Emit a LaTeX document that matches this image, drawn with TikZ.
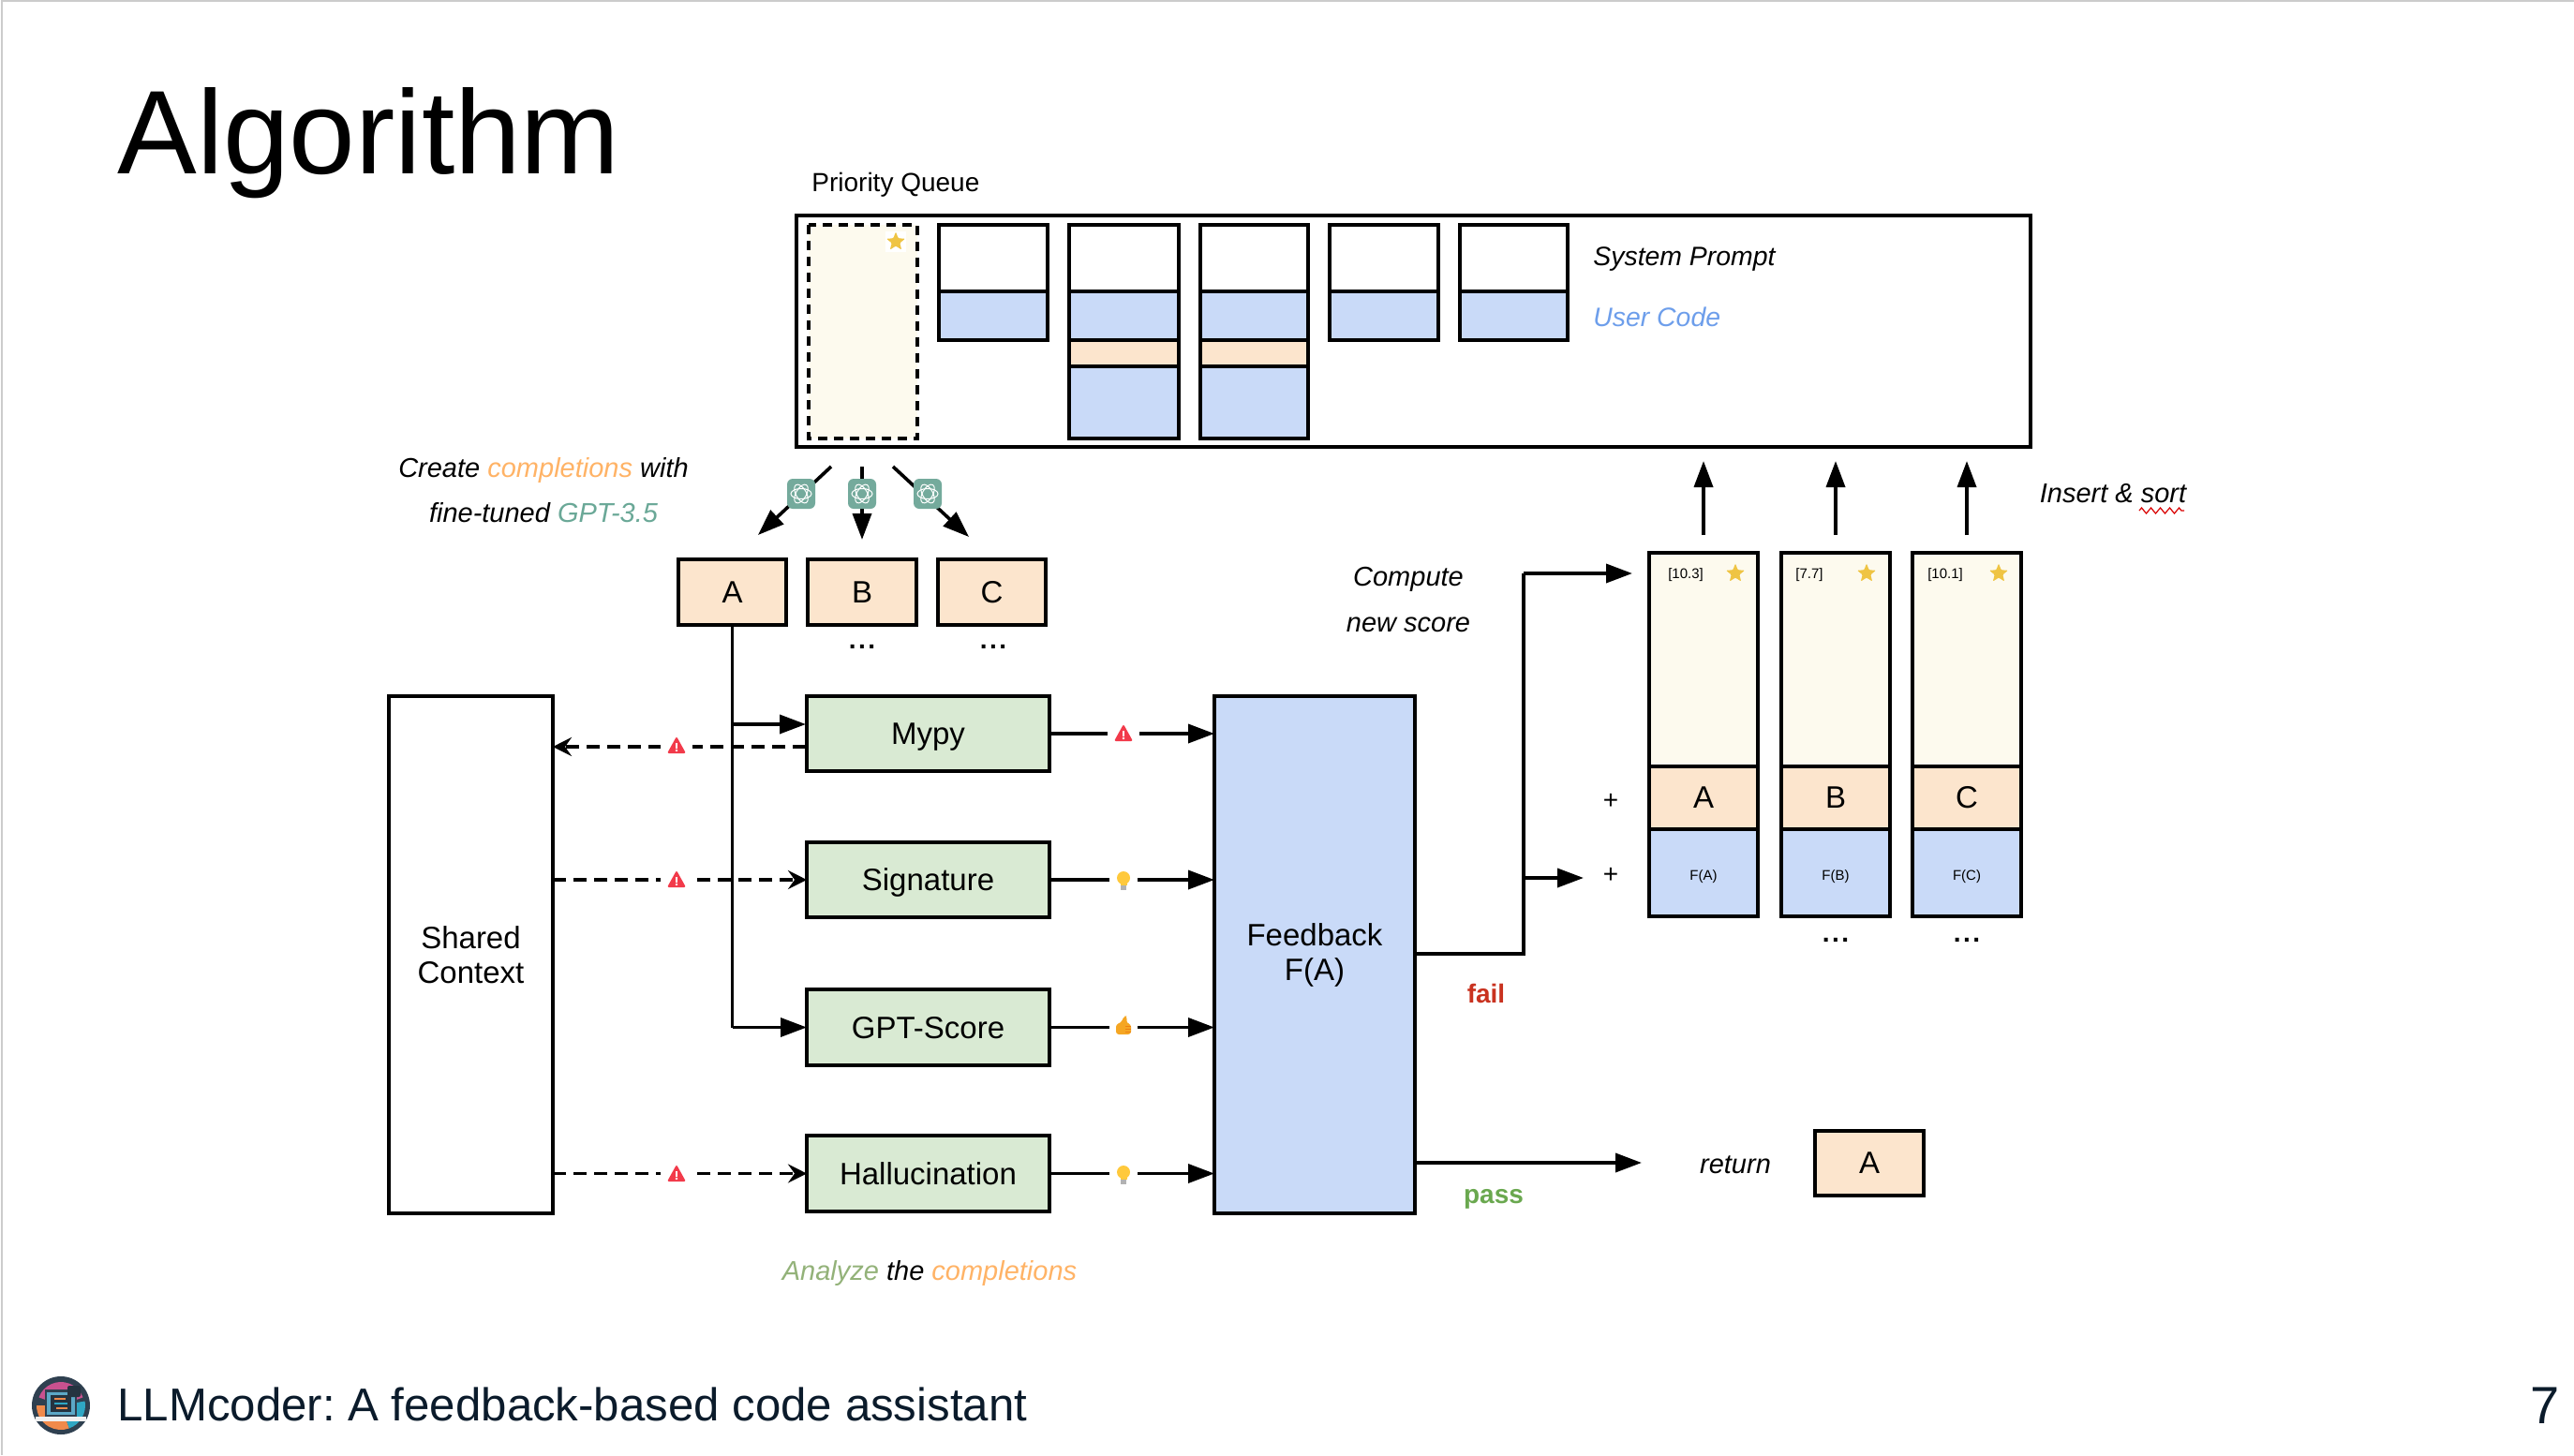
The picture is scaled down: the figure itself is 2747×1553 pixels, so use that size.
\documentclass[tikz,border=0pt]{standalone}
\usepackage{fontspec}
\setmainfont{Liberation Sans}
\usetikzlibrary{arrows.meta,shapes.geometric,decorations.pathmorphing}
\definecolor{peach}{HTML}{FCE5CD}
\definecolor{mint}{HTML}{D9EAD3}
\definecolor{sky}{HTML}{C9DAF8}
\definecolor{cream}{HTML}{FDFAEE}
\definecolor{txtorange}{HTML}{FFB366}
\definecolor{txtteal}{HTML}{6AA897}
\definecolor{txtgreen}{HTML}{93B279}
\definecolor{txtblue}{HTML}{6D9EEB}
\definecolor{failred}{HTML}{C9321F}
\definecolor{passgreen}{HTML}{6AA84F}
\definecolor{starc}{HTML}{EFC443}
\definecolor{warnred}{HTML}{F23A4A}
\definecolor{bulbc}{HTML}{FFC93C}
\definecolor{thumbc}{HTML}{F5A623}
\definecolor{navy}{HTML}{0B1B2B}
\definecolor{gptc}{HTML}{74AA9C}
\definecolor{logodark}{HTML}{2F4050}
\definecolor{logoorange}{HTML}{F08A4B}
\definecolor{logoteal}{HTML}{2FA7C4}
\definecolor{logopink}{HTML}{C9518F}
\newcommand{\fsz}[1]{\fontsize{#1}{#1}\selectfont}
\newcommand{\bx}[7]{%
  \pgfmathsetlengthmacro{\bw}{(#4-#2)*0.5}%
  \pgfmathsetlengthmacro{\bh}{(#5-#3)*0.5}%
  \pgfmathsetmacro{\bcx}{(#2+#4)/2}%
  \pgfmathsetmacro{\bcy}{(#3+#5)/2}%
  \node[boxn,#6,minimum width=\bw,minimum height=\bh] (#1) at (\bcx,\bcy) {#7};}
\newcommand{\dotsrow}{.\hspace{1.2pt}.\hspace{1.2pt}.}
\tikzset{
  x=0.5pt,y=-0.5pt,
  boxn/.style={draw=black,line width=1.8pt,inner sep=0pt,outer sep=0pt,align=center,font=\fontsize{16.5}{18.5}\selectfont},
  capline/.style={text height=11.8pt,text depth=0pt},
  smallf/.style={font=\fsz{7.5},text height=8pt,text depth=0pt},
  ital/.style={font=\fsz{14.5}\itshape,inner sep=0pt,align=center},
  italq/.style={font=\fsz{14.2}\itshape,inner sep=0pt,anchor=west},
  dotn/.style={inner sep=0pt,font=\fsz{14}\bfseries},
  arr/.style={line width=1.8pt,-{Triangle[length=14pt,width=10pt]}},
  plainln/.style={line width=1.8pt},
  dashln/.style={line width=1.7pt,dash pattern=on 5pt off 3.5pt},
  dasharr/.style={line width=1.8pt,dash pattern=on 7pt off 4pt,-{Stealth[length=10pt,width=10pt,inset=3.5pt]}},
  starn/.style={star,star points=5,star point ratio=2.3,fill=starc,minimum size=10.5pt,inner sep=0pt,rounded corners=0.5pt},
  warnicon/.pic={
    \fill[white] (-17,-17) rectangle (17,17);
    \fill[warnred,rounded corners=1pt] (-10,8) -- (0,-10) -- (10,8) -- cycle;
    \fill[white] (-1.2,-3) rectangle (1.2,2.5); \fill[white] (0,5) circle (1.4);
  },
  bulbicon/.pic={
    \fill[white] (-15,-17) rectangle (15,17);
    \fill[bulbc] (0,-2) circle (7);
    \fill[bulbc] (-3.5,2) rectangle (3.5,6);
    \fill[gray!60] (-3,6) rectangle (3,11);
  },
  thumbicon/.pic={
    \fill[white] (-15,-17) rectangle (15,17);
    \fill[thumbc,rounded corners=1.5pt] (-8,-2) -- (-3,-3) -- (1,-11) -- (4,-10) -- (3,-3) -- (8,-2) -- (8,9) -- (-8,9) -- cycle;
    \draw[orange!70!brown,line width=0.4pt] (2,0)--(8,0) (2,3)--(8,3) (2,6)--(8,6);
  },
  gpticon/.pic={
    \fill[gptc,rounded corners=3pt] (-15,-16) rectangle (15,16);
    \foreach \a in {0,60,120}{\draw[white,line width=0.5pt,rotate=\a] (0,0) ellipse (11 and 5.5);}
  },
}
\begin{document}
\frenchspacing
\begin{tikzpicture}
\useasboundingbox (0,0) rectangle (2747,1553);
\fill[white] (0,0) rectangle (2747,1553);
\draw[gray!40,line width=1pt] (2,1553) -- (2,1) -- (2747,1);

\node[anchor=base west,inner sep=0pt,font=\fsz{63.5}] (title) at (125,185) {Algorithm};

% priority queue
\node[anchor=west,inner sep=0pt,font=\fsz{14}] (pq) at (866,197) {Priority Queue};
\bx{queue}{850}{230}{2167}{477}{fill=white}{}
\bx{best}{863}{240}{979}{468}{fill=cream,draw=none}{}
\draw[dashln] (best.north west) rectangle (best.south east);
\node[fill=white,minimum size=11pt,inner sep=0pt] (bestbg) at (956,258) {};
\node[starn] (beststar) at (956,258) {};
\bx{qa}{1002}{240}{1118}{311}{fill=white}{}
\bx{qb}{1002}{311}{1118}{363}{fill=sky}{}
\bx{qc}{1141}{240}{1258}{311}{fill=white}{}
\bx{qd}{1141}{311}{1258}{363}{fill=sky}{}
\bx{qe}{1141}{363}{1258}{391}{fill=peach}{}
\bx{qf}{1141}{391}{1258}{468}{fill=sky}{}
\bx{qg}{1281}{240}{1396}{311}{fill=white}{}
\bx{qh}{1281}{311}{1396}{363}{fill=sky}{}
\bx{qi}{1281}{363}{1396}{391}{fill=peach}{}
\bx{qj}{1281}{391}{1396}{468}{fill=sky}{}
\bx{qk}{1419}{240}{1535}{311}{fill=white}{}
\bx{ql}{1419}{311}{1535}{363}{fill=sky}{}
\bx{qm}{1558}{240}{1673}{311}{fill=white}{}
\bx{qn}{1558}{311}{1673}{363}{fill=sky}{}
\node[italq] (sp) at (1700,277) {System Prompt};
\node[italq,text=txtblue] (uc) at (1700,338) {User Code};

% completion generation
\node[ital] (cr1) at (580,502) {Create \textcolor{txtorange}{completions} with};
\node[ital] (cr2) at (580,547) {fine-tuned \textcolor{txtteal}{GPT-3.5}};
\bx{A}{724}{597}{839}{667}{fill=peach}{A}
\bx{B}{862}{597}{978}{667}{fill=peach}{B}
\bx{C}{1001}{597}{1116}{667}{fill=peach}{C}
\node[dotn] (bd) at (920,690) {\dotsrow};
\node[dotn] (cd) at (1060,690) {\dotsrow};
\coordinate (s1) at (887,498); \coordinate (e1) at (809,571);
\coordinate (s2) at (920,498); \coordinate (e2) at (920,576);
\coordinate (s3) at (953,498); \coordinate (e3) at (1034,573);
\draw[arr] (s1) -- (e1);
\draw[arr] (s2) -- (e2);
\draw[arr] (s3) -- (e3);
\pic at (855,527) {gpticon};
\pic at (920,527) {gpticon};
\pic at (990,527) {gpticon};

% checkers
\bx{shared}{415}{743}{590}{1295}{fill=white}{Shared\\Context}
\bx{mypy}{861}{743}{1120}{823}{fill=mint,capline}{Mypy}
\bx{sig}{861}{899}{1120}{979}{fill=mint,capline}{Signature}
\bx{gpts}{861}{1056}{1120}{1137}{fill=mint,capline}{GPT-Score}
\bx{hall}{861}{1212}{1120}{1293}{fill=mint,capline}{Hallucination}
\bx{fb}{1296}{743}{1510}{1295}{fill=sky}{Feedback\\F(A)}

\coordinate (mypyin) at (860,773);
\coordinate (mypyd) at (860,797);
\draw[plainln] (A.south) -- (A.south |- gpts.west);
\draw[arr] (A.south |- mypyin) -- (mypyin);
\draw[arr] (A.south |- gpts.west) -- (gpts.west);

\draw[dasharr] (mypyd) -- (mypyd -| shared.east);
\draw[dasharr] (shared.east |- sig.west) -- (sig.west);
\draw[dasharr] (shared.east |- hall.west) -- (hall.west);
\pic at (722,796) {warnicon};
\pic at (722,939) {warnicon};
\pic at (722,1253) {warnicon};

\draw[arr] (mypy.east) -- (mypy.east -| fb.west);
\draw[arr] (sig.east) -- (sig.east -| fb.west);
\draw[arr] (gpts.east) -- (gpts.east -| fb.west);
\draw[arr] (hall.east) -- (hall.east -| fb.west);
\pic at (1199,783) {warnicon};
\pic at (1199,939) {bulbicon};
\pic at (1199,1095) {thumbicon};
\pic at (1199,1253) {bulbicon};

% feedback outputs
\coordinate (fbfail) at (1510,1018);
\coordinate (bend) at (1626,612);
\coordinate (bendm) at (1626,937);
\coordinate (topin) at (1742,612);
\coordinate (midin) at (1690,937);
\coordinate (fbpass) at (1510,1241);
\coordinate (passend) at (1752,1241);
\draw[plainln] (fbfail) -| (bend);
\draw[arr] (bend) -- (topin);
\draw[arr] (bendm) -- (midin);
\draw[arr] (fbpass) -- (passend);
\node[inner sep=0pt,font=\fsz{14}\bfseries,text=failred] (fail) at (1586,1060) {fail};
\node[inner sep=0pt,font=\fsz{14}\bfseries,text=passgreen] (pass) at (1594,1280) {pass};
\node[ital] (cmp1) at (1503,618) {Compute};
\node[ital] (cmp2) at (1503,667) {new score};
\node[inner sep=0pt,font=\fsz{14}] (p1) at (1719,855) {+};
\node[inner sep=0pt,font=\fsz{14}] (p2) at (1719,934) {+};

% scored columns
\bx{ca}{1760}{590}{1876}{818}{fill=cream}{}
\bx{cb}{1760}{818}{1876}{885}{fill=peach}{A}
\bx{cc}{1760}{885}{1876}{978}{fill=sky,smallf}{F(A)}
\bx{da}{1901}{590}{2017}{818}{fill=cream}{}
\bx{db}{1901}{818}{2017}{885}{fill=peach}{B}
\bx{dc}{1901}{885}{2017}{978}{fill=sky,smallf}{F(B)}
\bx{ea}{2041}{590}{2157}{818}{fill=cream}{}
\bx{eb}{2041}{818}{2157}{885}{fill=peach}{C}
\bx{ec}{2041}{885}{2157}{978}{fill=sky,smallf}{F(C)}
\node[inner sep=0pt,font=\fsz{7.5}] (t1) at (1799,614) {[10.3]};
\node[inner sep=0pt,font=\fsz{7.5}] (t2) at (1931,614) {[7.7]};
\node[inner sep=0pt,font=\fsz{7.5}] (t3) at (2076,614) {[10.1]};
\node[starn] (st1) at (1852,612) {};
\node[starn] (st2) at (1992,612) {};
\node[starn] (st3) at (2133,612) {};
\node[dotn] (dd) at (1959,1003) {\dotsrow};
\node[dotn] (ed) at (2099,1003) {\dotsrow};
\coordinate (ua) at (1818,571); \coordinate (ub) at (1959,571); \coordinate (uc2) at (2099,571);
\coordinate (va) at (1818,492); \coordinate (vb) at (1959,492); \coordinate (vc) at (2099,492);
\draw[arr] (ua) -- (va);
\draw[arr] (ub) -- (vb);
\draw[arr] (uc2) -- (vc);
\node[ital] (ins) at (2255,527) {Insert \& sort};
\coordinate (sqa) at (2283,545); \coordinate (sqb) at (2331,545);
\draw[red!85!black,line width=0.6pt,decorate,decoration={zigzag,segment length=5pt,amplitude=1.5pt}] (sqa) -- (sqb);

\node[ital] (ret) at (1852,1243) {return};
\bx{Ar}{1937}{1207}{2053}{1276}{fill=peach}{A}
\node[ital] (an) at (992,1359) {\textcolor{txtgreen}{Analyze} the \textcolor{txtorange}{completions}};

% footer logo
\fill[logodark] (65,1500) circle (31);
\fill[logoorange] (65,1500) -- ++(180:26) arc (180:70:26) -- cycle;
\fill[logoteal] (65,1500) -- ++(70:26) arc (70:-10:26) -- cycle;
\fill[logopink] (65,1500) -- ++(-160:25) arc (-160:-20:25) -- cycle;
\fill[logodark] (48,1483) rectangle (82,1512);
\fill[cyan!55!gray] (50,1486) rectangle (80,1510);
\fill[logodark!80!black] (54,1489) rectangle (76,1507);
\draw[logoorange,line width=0.7pt] (58,1493)--(70,1493) (60,1503)--(72,1503);
\draw[logoteal,line width=0.7pt] (58,1498)--(72,1498);
\fill[logodark!80!black,rounded corners=1pt] (72,1479) rectangle (86,1491);
\fill[white!88!gray] (38,1512) rectangle (92,1517);
\node[anchor=base west,inner sep=0pt,font=\fsz{24.6},text=navy] (foot) at (125,1516) {LLMcoder: A feedback-based code assistant};
\node[inner sep=0pt,font=\fsz{28},text=navy] (pg) at (2716,1500) {7};
\end{tikzpicture}
\end{document}
